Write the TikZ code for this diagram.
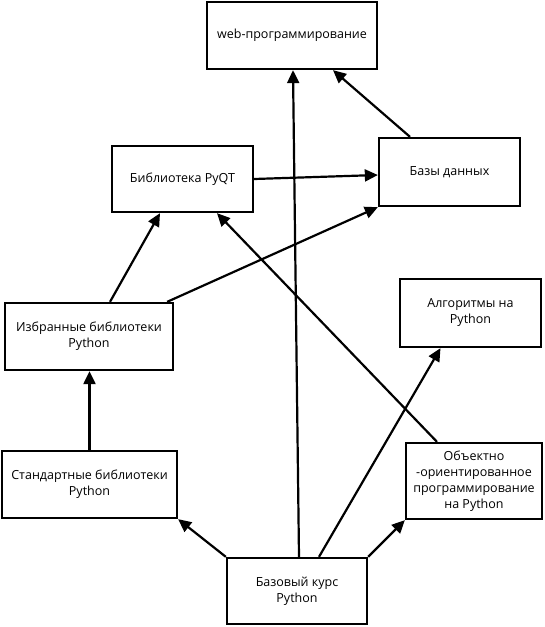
\documentclass[tikz,border=0pt]{standalone}
\usepackage{fontspec}
\setmainfont{Open Sans}
\usetikzlibrary{arrows.meta,calc}
\begin{document}
\begin{tikzpicture}[x=1pt,y=-1pt,
  box/.style={draw=black,line width=2.3pt,rectangle,align=center,inner sep=2pt,
    font=\fontsize{12.5}{16}\selectfont},
  conn/.style={line width=2.2pt,-{Triangle[length=13pt,width=12pt]}}]
\useasboundingbox (0,0) rectangle (544,627);
\node[box,minimum width=170pt,minimum height=67pt] (web) at (292,35.5) {web-программирование};
\node[box,minimum width=141pt,minimum height=66pt] (pyqt) at (182.5,179) {Библиотека PyQT};
\node[box,minimum width=141pt,minimum height=68pt] (db) at (449.5,172) {Базы данных};
\node[box,minimum width=168pt,minimum height=67pt] (izbr) at (89,336.5) {Избранные библиотеки\\Python};
\node[box,minimum width=141pt,minimum height=68pt] (algo) at (470.5,313) {Алгоритмы на\\Python};
\node[box,minimum width=175pt,minimum height=67pt] (std) at (89.5,484.5) {Стандартные библиотеки\\Python};
\node[box,minimum width=136pt,minimum height=76pt] (oop) at (474,481) {Объектно\\-ориентированное\\программирование\\на Python};
\node[box,minimum width=140pt,minimum height=66pt] (base) at (297,591) {Базовый курс\\Python};

\draw[conn] ($(base.north)+(2,0)$) -- ($(web.south)+(1,0)$);
\draw[conn] ($(base.north)+(22,0)$) -- ($(algo.south)+(-30,0)$);
\draw[conn] (base.north east) -- (oop.south west);
\draw[conn] (base.north west) -- (std.south east);
\draw[conn] (std.north) -- (std.north |- izbr.south);
\draw[conn] ($(izbr.north)+(21,0)$) -- ($(pyqt.south)+(-22.5,0)$);
\draw[conn] ($(izbr.north east)+(-7,0)$) -- (db.south west);
\draw[conn] ($(oop.north)+(-37,0)$) -- ($(pyqt.south)+(34.5,0)$);
\draw[conn] (pyqt.east) -- ($(db.west)+(0,3)$);
\draw[conn] ($(db.north)+(-39.5,0)$) -- ($(web.south)+(41,0)$);
\end{tikzpicture}
\end{document}
